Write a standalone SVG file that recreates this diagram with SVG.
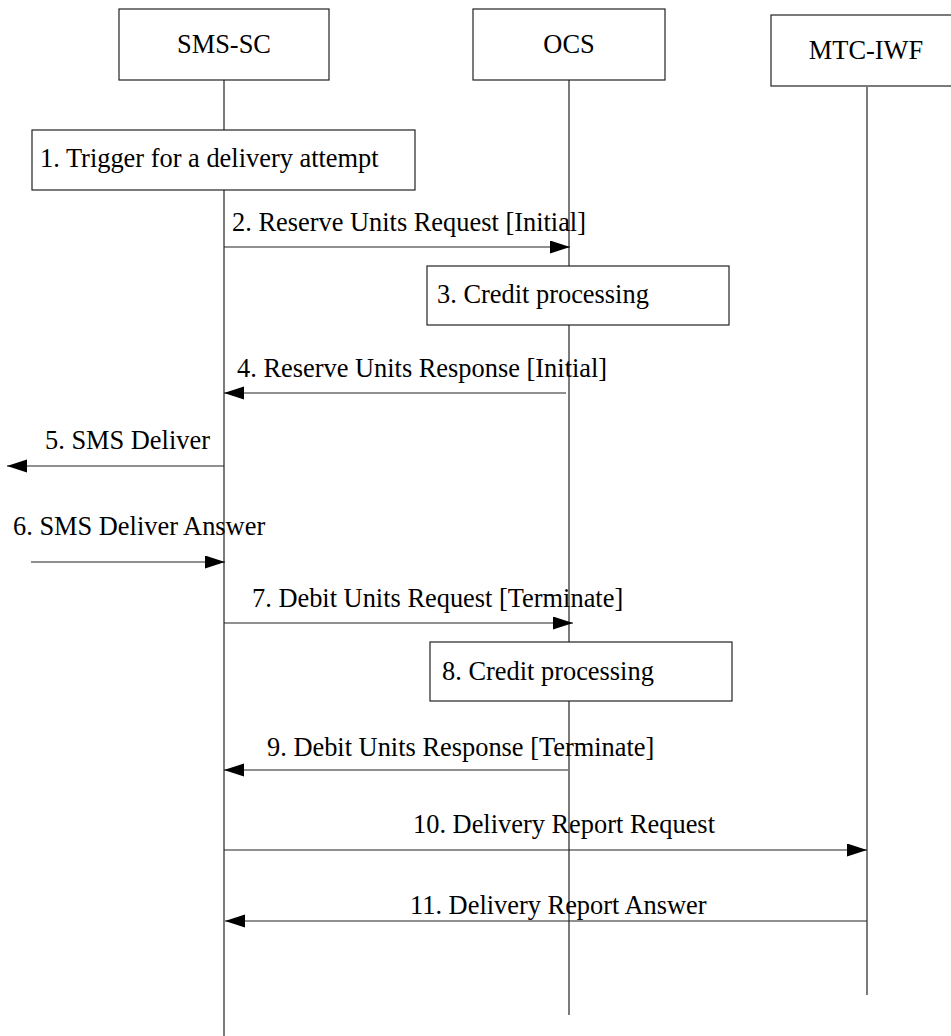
<svg xmlns="http://www.w3.org/2000/svg" width="951" height="1036" viewBox="0 0 951 1036">
<style>
  text { font-family: "Liberation Serif", "Times New Roman", serif; font-size: 26.4px; fill: #000; }
  .box { fill: #fff; stroke: #222; stroke-width: 1.2; }
  .life { stroke: #222; stroke-width: 1.2; fill: none; }
  .msg { stroke: #222; stroke-width: 1.2; fill: none; marker-end: url(#arrow); }
</style>
<defs>
  <marker id="arrow" markerUnits="userSpaceOnUse" markerWidth="22" markerHeight="14" refX="20" refY="6.5" orient="auto">
    <path d="M0,0 L20,6.5 L0,13 Z" fill="#000"/>
  </marker>
</defs>
<rect width="951" height="1036" fill="#fff"/>

<g id="lifelines">
  <line class="life" x1="224" y1="80" x2="224" y2="1036"/>
  <line class="life" x1="569" y1="80" x2="569" y2="1015"/>
  <line class="life" x1="867" y1="87" x2="867" y2="995"/>
</g>

<g id="sms-sc">
  <rect class="box" x="119" y="9" width="210" height="71"/>
  <text x="224" y="53" text-anchor="middle">SMS-SC</text>
</g>
<g id="ocs">
  <rect class="box" x="473" y="9" width="192" height="71"/>
  <text x="569" y="53" text-anchor="middle">OCS</text>
</g>
<g id="mtc-iwf">
  <rect class="box" x="771" y="15" width="185" height="71"/>
  <text x="866" y="59" text-anchor="middle">MTC-IWF</text>
</g>

<g id="step1">
  <rect class="box" x="32" y="130" width="383" height="60"/>
  <text x="40" y="167">1. Trigger for a delivery attempt</text>
</g>
<g id="step3">
  <rect class="box" x="427" y="266" width="302" height="59"/>
  <text x="437" y="303">3. Credit processing</text>
</g>
<g id="step8">
  <rect class="box" x="430" y="642" width="302" height="59"/>
  <text x="442" y="680">8. Credit processing</text>
</g>

<g id="connectors">
  <line class="msg" x1="224" y1="247" x2="570" y2="247"/>
  <line class="msg" x1="566" y1="393" x2="224" y2="393"/>
  <line class="msg" x1="224" y1="466" x2="7" y2="466"/>
  <line class="msg" x1="31" y1="562" x2="225" y2="562"/>
  <line class="msg" x1="224" y1="623" x2="573" y2="623"/>
  <line class="msg" x1="568" y1="770" x2="224" y2="770"/>
  <line class="msg" x1="224" y1="850" x2="867" y2="850"/>
  <line class="msg" x1="867" y1="921" x2="225" y2="921"/>
</g>

<g id="labels">
  <text x="232" y="231">2. Reserve Units Request [Initial]</text>
  <text x="237" y="377">4. Reserve Units Response [Initial]</text>
  <text x="45" y="449">5. SMS Deliver</text>
  <text x="13" y="535">6. SMS Deliver Answer</text>
  <text x="252" y="607">7. Debit Units Request [Terminate]</text>
  <text x="267" y="756">9. Debit Units Response [Terminate]</text>
  <text x="413" y="833">10. Delivery Report Request</text>
  <text x="410" y="914">11. Delivery Report Answer</text>
</g>
</svg>
